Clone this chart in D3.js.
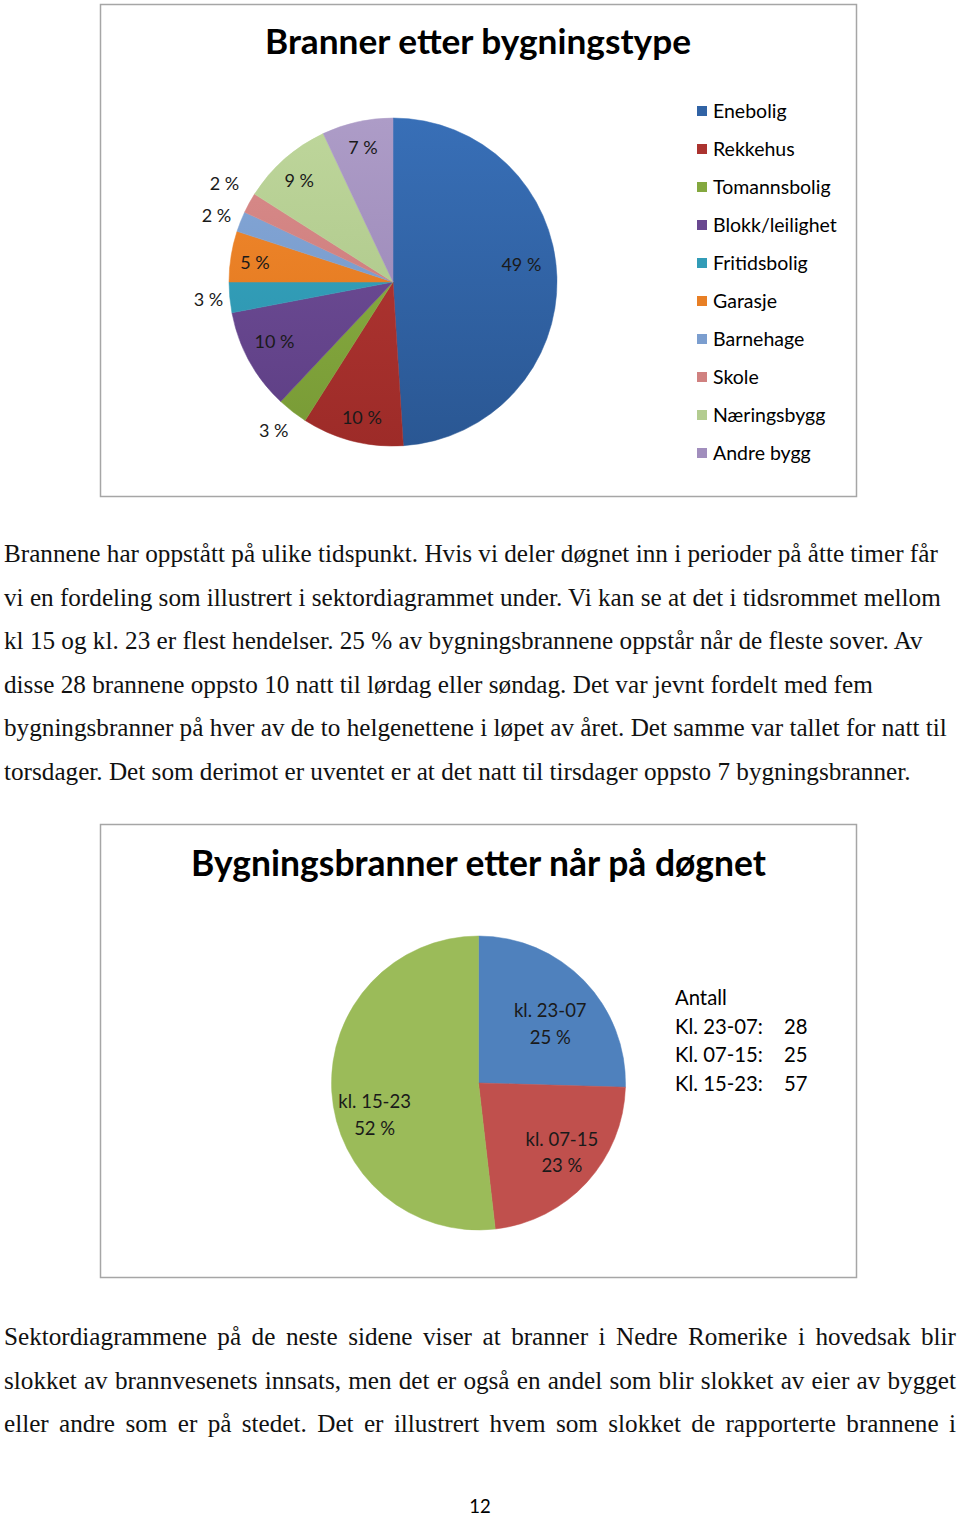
<!DOCTYPE html>
<html><head><meta charset="utf-8">
<script src="https://cdn.jsdelivr.net/npm/d3@7"></script>
<style>html,body{margin:0;padding:0;background:#fff}</style>
</head><body>
<svg id="page" width="960" height="1517"></svg>
<script>
// ---------- data ----------
const buildingTypes = ["Enebolig","Rekkehus","Tomannsbolig","Blokk/leilighet","Fritidsbolig","Garasje","Barnehage","Skole","Næringsbygg","Andre bygg"];
const buildingShares = [49,10,3,10,3,5,2,2,9,7];
const periodNames = ["kl. 23-07","kl. 07-15","kl. 15-23"];
const periodCounts = [28,25,57];
const countHeader = "Antall";
const countLabels = ["Kl. 23-07:","Kl. 07-15:","Kl. 15-23:"];
const title1 = "Branner etter bygningstype";
const title2 = "Bygningsbranner etter når på døgnet";
const introLines = [
  "Brannene har oppstått på ulike tidspunkt. Hvis vi deler døgnet inn i perioder på åtte timer får",
  "vi en fordeling som illustrert i sektordiagrammet under. Vi kan se at det i tidsrommet mellom",
  "kl 15 og kl. 23 er flest hendelser. 25 % av bygningsbrannene oppstår når de fleste sover. Av",
  "disse 28 brannene oppsto 10 natt til lørdag eller søndag. Det var jevnt fordelt med fem",
  "bygningsbranner på hver av de to helgenettene i løpet av året. Det samme var tallet for natt til",
  "torsdager. Det som derimot er uventet er at det natt til tirsdager oppsto 7 bygningsbranner."
];
const outroLines = [
  "Sektordiagrammene på de neste sidene viser at branner i Nedre Romerike i hovedsak blir",
  "slokket av brannvesenets innsats, men det er også en andel som blir slokket av eier av bygget",
  "eller andre som er på stedet. Det er illustrert hvem som slokket de rapporterte brannene i"
];
const pageNumber = "12";

// ---------- styles / layout ----------
const pie1Top = ["#386fb7","#b83a36","#8fb548","#74529c","#38a8c3","#f38b30","#87a9d8","#da8d8c","#bed69b","#ad9cc7"];
const pie1Bot = ["#2a5793","#9d2b28","#789a35","#5d3e84","#2b90aa","#dd7219","#6f93c6","#c67574","#a7c284","#9480b2"];
const pie2Colors = ["#4f81bd","#c0504d","#9bbb59"];
const pie1Place = [{k:0.79,da:-6},{k:0.85,da:-1.5},{k:1.16,da:1},{k:0.81,da:2},{k:1.13,da:0},{k:0.85,da:-1},{k:1.15,da:-1},{k:1.19,da:1.5},{k:0.84,da:-1.5},{k:0.84,da:0}];
const pie2Place = [{k:0.63,da:5},{k:0.74,da:-2.6},{k:0.74,da:-14}];
const SANS = "Lato, 'Open Sans', sans-serif";
const SERIF = "'Liberation Serif', 'Times New Roman', serif";

const svg = d3.select("#page");
const defs = svg.append("defs");

function fitFont(sel, target, base) {
  const L = sel.node().getComputedTextLength();
  const fs = base * target / L;
  sel.attr("font-size", fs);
  return fs;
}

// ---------- chart 1 frame ----------
svg.append("rect").attr("x",100.5).attr("y",4.5).attr("width",756).attr("height",492)
  .attr("fill","#fff").attr("stroke","#a6a6a6").attr("stroke-width",1.5);
const t1 = svg.append("text").attr("x",478).attr("y",54).attr("text-anchor","middle")
  .attr("font-family",SANS).attr("font-weight",700).attr("font-size",30).attr("fill","#000").text(title1);
fitFont(t1, 426, 30);

// ---------- pie 1 ----------
const c1 = {x:393, y:282, r:164};
const pie1 = d3.pie().sort(null).value(d=>d)(buildingShares);
const arc1 = d3.arc().innerRadius(0).outerRadius(c1.r);
const g1 = svg.append("g").attr("transform",`translate(${c1.x},${c1.y})`);
buildingTypes.forEach((n,i)=>{
  const gr = defs.append("linearGradient").attr("id","g1_"+i)
    .attr("gradientUnits","userSpaceOnUse").attr("x1",0).attr("x2",0)
    .attr("y1",-c1.r).attr("y2",c1.r);
  gr.append("stop").attr("offset",0).attr("stop-color",pie1Top[i]);
  gr.append("stop").attr("offset",1).attr("stop-color",pie1Bot[i]);
});
g1.selectAll("path.s").data(pie1).join("path").attr("class","s")
  .attr("d",arc1).attr("fill",(d,i)=>`url(#g1_${i})`)
  .attr("stroke",(d,i)=>`url(#g1_${i})`).attr("stroke-width",0.5);
g1.selectAll("text.l").data(pie1).join("text").attr("class","l")
  .each(function(d,i){
    const p = pie1Place[i];
    const a = (d.startAngle+d.endAngle)/2 + p.da*Math.PI/180;
    const rr = c1.r*p.k;
    d3.select(this).attr("x", rr*Math.sin(a)).attr("y", -rr*Math.cos(a));
  })
  .attr("text-anchor","middle").attr("dy","0.35em")
  .attr("font-family",SANS).attr("font-size",18).attr("fill","#1a1a1a")
  .text(d=>`${d.data} %`);

// legend 1
const leg = svg.append("g");
buildingTypes.forEach((n,i)=>{
  const y = 111 + i*38;
  leg.append("rect").attr("x",697).attr("y",y-5).attr("width",10).attr("height",10)
    .attr("fill",d3.interpolateRgb(pie1Top[i],pie1Bot[i])(0.5));
  leg.append("text").attr("x",713).attr("y",y).attr("dy","0.35em")
    .attr("font-family",SANS).attr("font-size",19.5).attr("fill","#000").text(n);
});

// ---------- intro paragraph ----------
const intro = svg.append("g");
const l0 = intro.append("text").attr("x",4).attr("y",562)
  .attr("font-family",SERIF).attr("font-size",24).attr("fill","#111").text(introLines[0]);
const bodyFs = fitFont(l0, 934, 24);
introLines.slice(1).forEach((s,i)=>{
  intro.append("text").attr("x",4).attr("y",562 + (i+1)*43.5)
    .attr("font-family",SERIF).attr("font-size",bodyFs).attr("fill","#111").text(s);
});

// ---------- chart 2 frame ----------
svg.append("rect").attr("x",100.5).attr("y",824.5).attr("width",756).attr("height",453)
  .attr("fill","#fff").attr("stroke","#a6a6a6").attr("stroke-width",1.5);
const t2 = svg.append("text").attr("x",478.5).attr("y",876).attr("text-anchor","middle")
  .attr("font-family",SANS).attr("font-weight",700).attr("font-size",30).attr("fill","#000").text(title2);
fitFont(t2, 575, 30);

// ---------- pie 2 ----------
const c2 = {x:478.5, y:1083, r:147};
const total2 = d3.sum(periodCounts);
const pie2 = d3.pie().sort(null).value(d=>d)(periodCounts);
const arc2 = d3.arc().innerRadius(0).outerRadius(c2.r);
const g2 = svg.append("g").attr("transform",`translate(${c2.x},${c2.y})`);
g2.selectAll("path").data(pie2).join("path").attr("d",arc2)
  .attr("fill",(d,i)=>pie2Colors[i]).attr("stroke",(d,i)=>pie2Colors[i]).attr("stroke-width",0.5);
pie2.forEach((d,i)=>{
  const p = pie2Place[i];
  const a = (d.startAngle+d.endAngle)/2 + p.da*Math.PI/180;
  const rr = c2.r*p.k;
  const x = rr*Math.sin(a), y = -rr*Math.cos(a);
  const t = g2.append("text").attr("x",x).attr("y",y).attr("text-anchor","middle")
    .attr("font-family",SANS).attr("font-size",18.5).attr("fill","#1a1a1a");
  t.append("tspan").attr("x",x).attr("dy","-0.38em").text(periodNames[i]);
  t.append("tspan").attr("x",x).attr("dy","1.42em").text(Math.round(d.data/total2*100)+" %");
});

// count box
const cb = svg.append("g").attr("font-family",SANS).attr("font-size",20.3).attr("fill","#000");
cb.append("text").attr("x",675).attr("y",1005).text(countHeader);
countLabels.forEach((s,i)=>{
  cb.append("text").attr("x",675).attr("y",1033.5+i*28.5).text(s);
  cb.append("text").attr("x",784).attr("y",1033.5+i*28.5).text(periodCounts[i]);
});

// ---------- outro paragraph (justified) ----------
const outro = svg.append("g").attr("font-family",SERIF).attr("font-size",bodyFs).attr("fill","#111");
outroLines.forEach((s,li)=>{
  const y = 1345 + li*43.5;
  const words = s.split(" ");
  const nodes = words.map(w=>outro.append("text").attr("y",y).text(w));
  const widths = nodes.map(n=>n.node().getComputedTextLength());
  const gap = (952 - d3.sum(widths))/(words.length-1);
  let x = 4;
  nodes.forEach((n,i)=>{ n.attr("x",x); x += widths[i]+gap; });
});

// page number
svg.append("text").attr("x",480).attr("y",1507).attr("dy","0.35em").attr("text-anchor","middle")
  .attr("font-family",SANS).attr("font-size",18.5).attr("fill","#000").text(pageNumber);
</script>
</body></html>
